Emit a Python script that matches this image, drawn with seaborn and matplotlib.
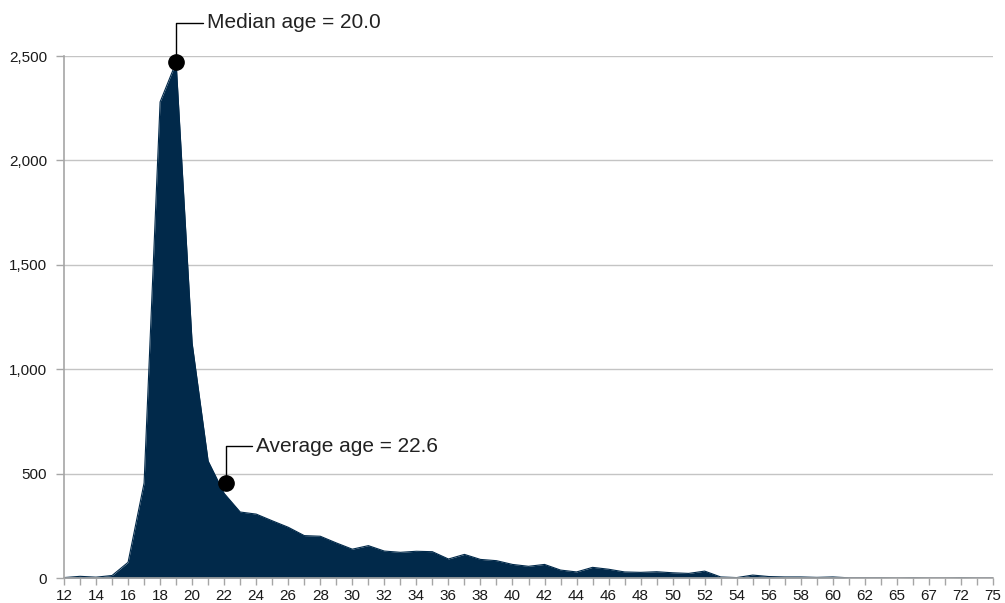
import matplotlib
matplotlib.use("Agg")
import matplotlib.pyplot as plt
import seaborn as sns
import pandas as pd
import numpy as np

ages = list(range(12, 63)) + [63, 65, 66, 67, 69, 72, 73, 75]
counts = [2, 8, 4, 12, 75, 455, 2280, 2470, 1125, 560, 405, 316, 306, 274, 243,
          203, 200, 168, 138, 155, 129, 123, 128, 126, 91, 113, 89, 83, 65, 56,
          65, 38, 29, 51, 42, 29, 27, 30, 25, 22, 33, 5, 2, 14, 7,
          5, 5, 3, 5, 1, 1, 1, 0, 1, 0, 0, 1, 0, 0]
y_ticks = [0, 500, 1000, 1500, 2000, 2500]
median_label = "Median age = 20.0"
average_label = "Average age = 22.6"
median_value = 2470
average_value = 455

df = pd.DataFrame({"pos": np.arange(len(ages)), "age": ages, "count": counts})

sns.set_theme(style="white")
plt.rcParams["font.family"] = ["Liberation Sans", "DejaVu Sans"]

fig = plt.figure(figsize=(10.05, 6.03), dpi=100)
ax = fig.add_axes([64 / 1005, 25 / 603, (993 - 64) / 1005, (578 - 56) / 603])

navy = "#01294a"
sns.lineplot(data=df, x="pos", y="count", ax=ax, color=navy, linewidth=0.8)
ax.fill_between(df["pos"], df["count"], 0, color=navy, linewidth=0)

ax.set_xlim(0, len(ages) - 1)
ax.set_ylim(0, 2500)
ax.set_xticks(df["pos"])
ax.set_xticklabels([str(a) if i % 2 == 0 else "" for i, a in enumerate(ages)])
ax.set_yticks(y_ticks)
ax.set_yticklabels([f"{v:,}" for v in y_ticks])
ax.set_xlabel("")
ax.set_ylabel("")

ax.grid(axis="y", color="#c4c4c4", linewidth=1)
ax.set_axisbelow(True)
for s in ["top", "right"]:
    ax.spines[s].set_visible(False)
for s in ["left", "bottom"]:
    ax.spines[s].set_color("#a6a6a6")
    ax.spines[s].set_linewidth(1.2)

ax.tick_params(axis="x", which="both", bottom=True, length=5, width=1, color="#a6a6a6",
               labelsize=11, labelcolor="#1a1a1a", pad=3)
ax.tick_params(axis="y", which="both", left=True, length=6, width=1, color="#a6a6a6",
               labelsize=11, labelcolor="#1a1a1a", pad=6)

# Median annotation
mpos = ages.index(19)
ax.plot([mpos], [median_value], "o", color="black", markersize=11, clip_on=False, zorder=5)
ax.annotate(median_label, xy=(mpos, median_value), xytext=(mpos + 1.95, 2660),
            fontsize=15, color="#222222", va="center", ha="left",
            annotation_clip=False,
            arrowprops=dict(arrowstyle="-", color="black", lw=1,
                            connectionstyle="angle,angleA=0,angleB=90,rad=0",
                            shrinkA=1, shrinkB=0))

# Average annotation
apos = ages.index(22) + 0.1
ax.plot([apos], [average_value], "o", color="black", markersize=11, zorder=5)
ax.annotate(average_label, xy=(apos, average_value), xytext=(apos + 1.9, 632),
            fontsize=15, color="#222222", va="center", ha="left",
            arrowprops=dict(arrowstyle="-", color="black", lw=1,
                            connectionstyle="angle,angleA=0,angleB=90,rad=0",
                            shrinkA=1, shrinkB=0))

fig.savefig("out.png", dpi=100)
